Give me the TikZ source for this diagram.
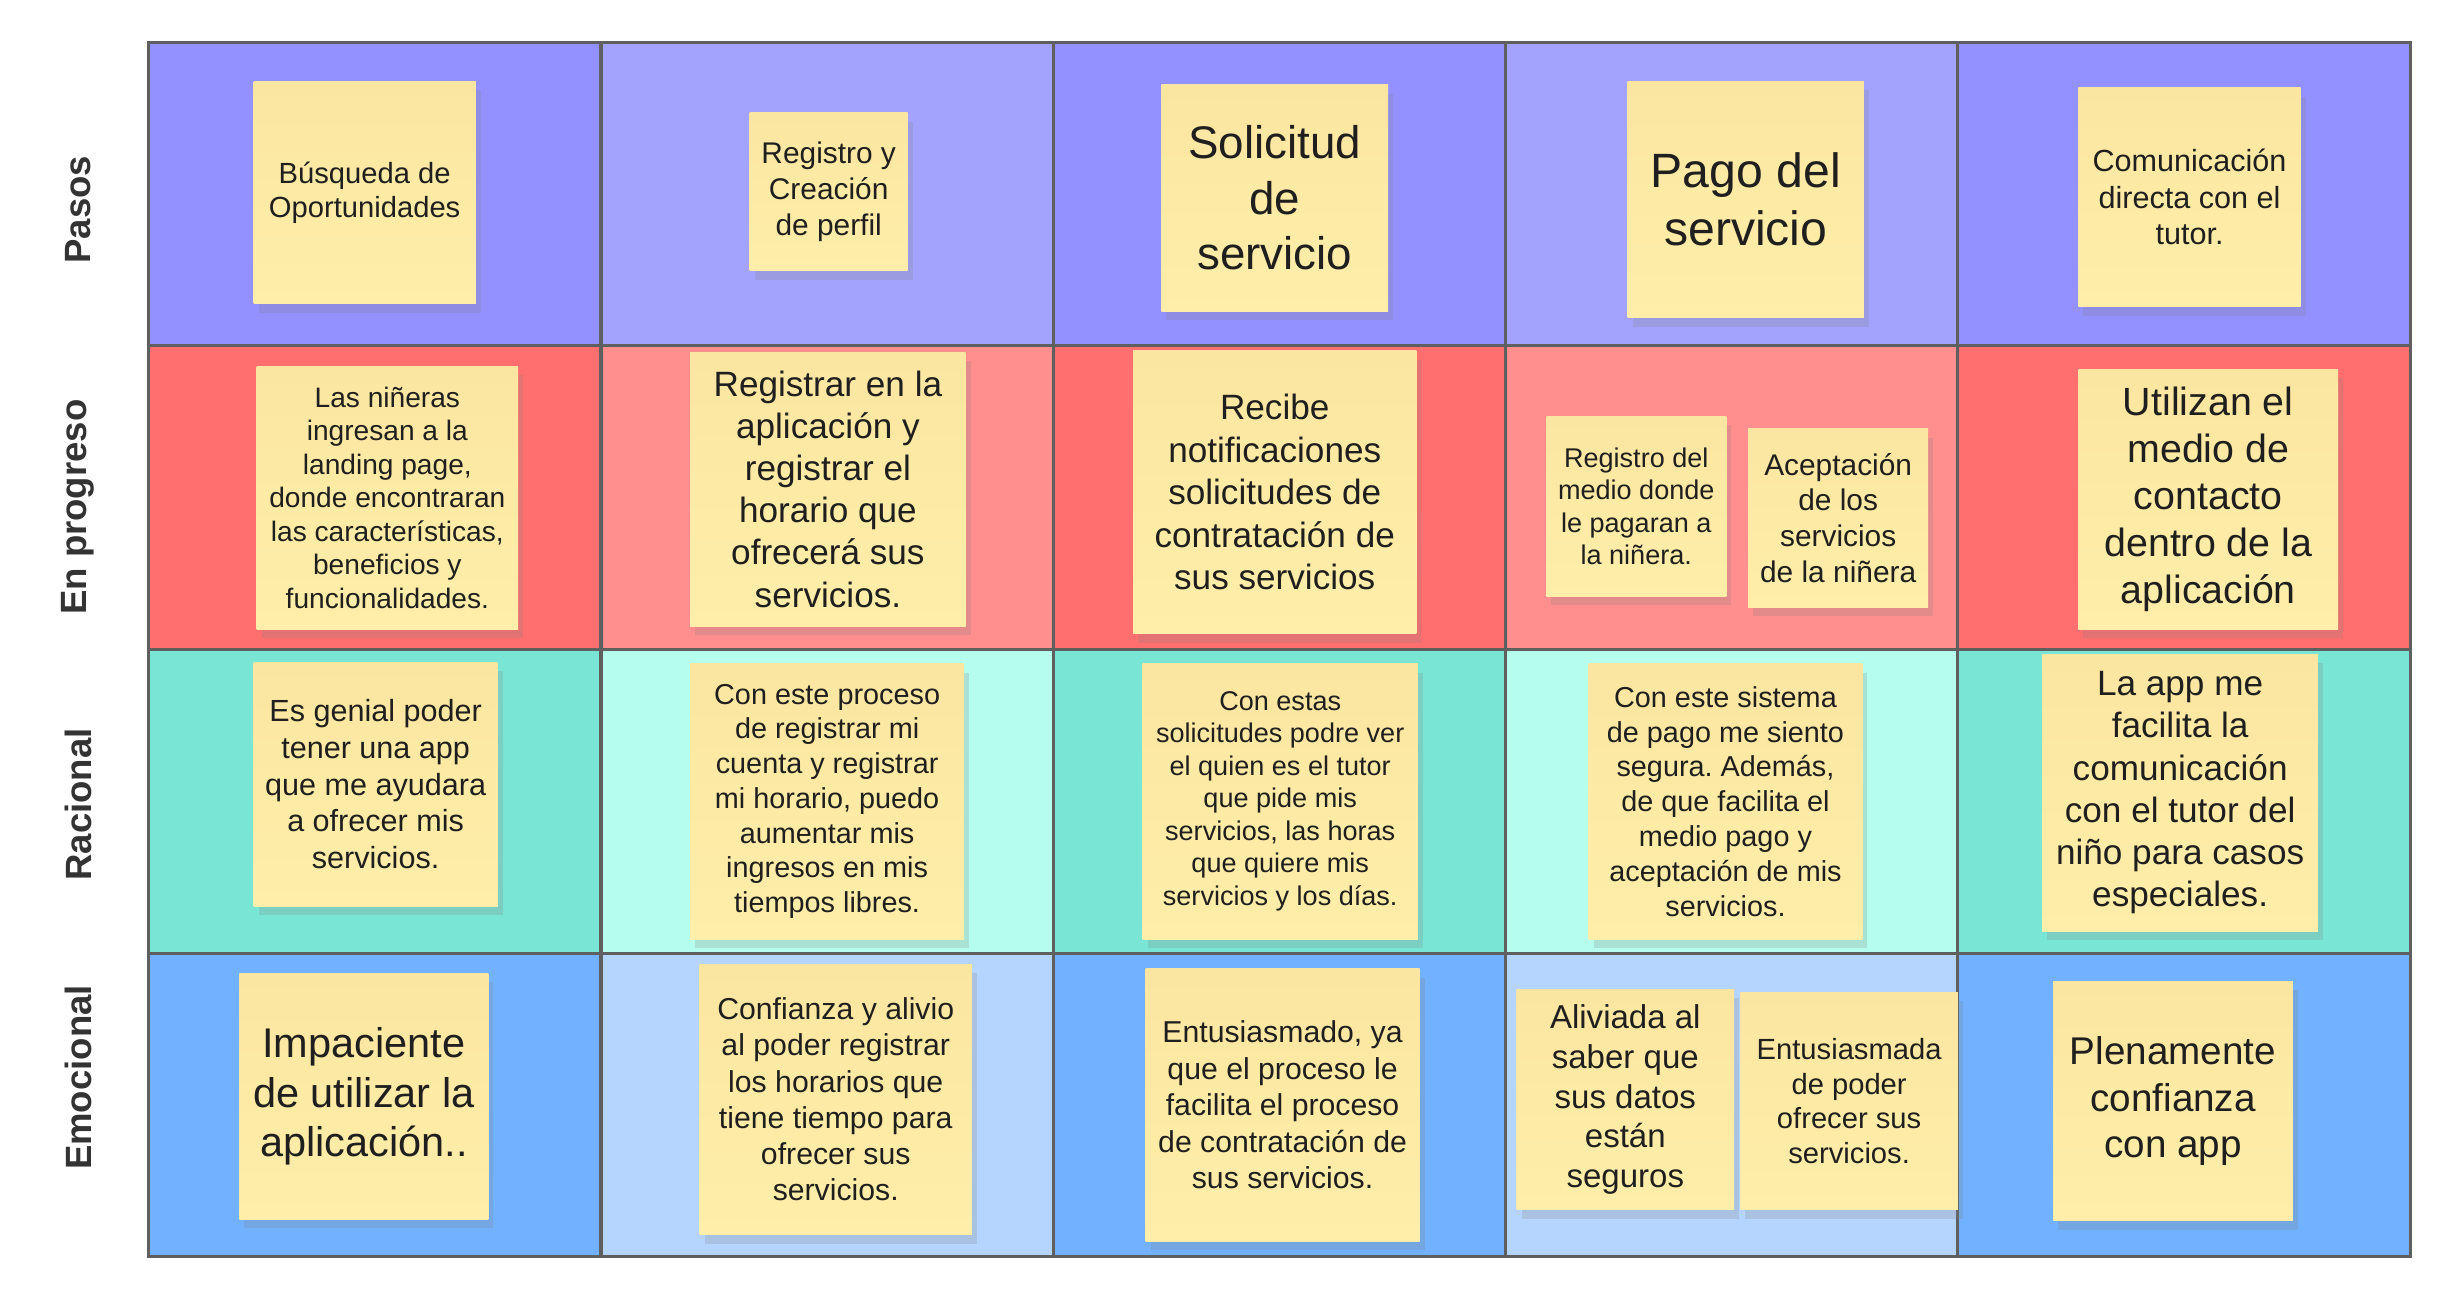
\documentclass[tikz,border=0pt]{standalone}
\usepackage{fontspec}
\setmainfont{Liberation Sans}
\usetikzlibrary{shadows}
\frenchspacing

\definecolor{pasosA}{HTML}{9391FF}
\definecolor{pasosB}{HTML}{A3A3FD}
\definecolor{progA}{HTML}{FF6F6F}
\definecolor{progB}{HTML}{FF8E8E}
\definecolor{racA}{HTML}{79E5D5}
\definecolor{racB}{HTML}{B5FDEC}
\definecolor{emoA}{HTML}{71B1FE}
\definecolor{emoB}{HTML}{B5D5FE}
\definecolor{noteTop}{HTML}{FBE6A1}
\definecolor{noteBot}{HTML}{FEEEA9}
\definecolor{gridline}{HTML}{5F5F5F}
\definecolor{labelgray}{HTML}{333333}

\tikzset{
  cell/.style={draw=gridline, line width=0.9pt, minimum width=289*0.1565mm,
    minimum height=194*0.1565mm, inner sep=0pt},
  rowlabel/.style={rotate=90, font=\fontsize{10.4}{12}\selectfont\bfseries,
    text=labelgray},
  sz/.style 2 args={minimum width=#1*0.1565mm, minimum height=#2*0.1565mm},
  ft/.style 2 args={font=\fontsize{#1}{#2}\selectfont},
  note/.style={top color=noteTop, bottom color=noteBot, inner sep=0pt,
    align=center, text=black!88,
    drop shadow={shadow xshift=0.5mm, shadow yshift=-0.9mm, opacity=0.22}},
}

\begin{document}
\begin{tikzpicture}[x=0.1565mm, y=-0.1565mm]

      \useasboundingbox (0,0) rectangle (1568,840);

      % grid of cells
      \begin{scope}
        \node[cell, fill=pasosA] (c11) at (239.5,124) {};
        \node[cell, fill=pasosB] (c12) at (528.5,124) {};
        \node[cell, fill=pasosA] (c13) at (817.5,124) {};
        \node[cell, fill=pasosB] (c14) at (1106.5,124) {};
        \node[cell, fill=pasosA] (c15) at (1395.5,124) {};
        \node[cell, fill=progA]  (c21) at (239.5,318) {};
        \node[cell, fill=progB]  (c22) at (528.5,318) {};
        \node[cell, fill=progA]  (c23) at (817.5,318) {};
        \node[cell, fill=progB]  (c24) at (1106.5,318) {};
        \node[cell, fill=progA]  (c25) at (1395.5,318) {};
        \node[cell, fill=racA]   (c31) at (239.5,512) {};
        \node[cell, fill=racB]   (c32) at (528.5,512) {};
        \node[cell, fill=racA]   (c33) at (817.5,512) {};
        \node[cell, fill=racB]   (c34) at (1106.5,512) {};
        \node[cell, fill=racA]   (c35) at (1395.5,512) {};
        \node[cell, fill=emoA]   (c41) at (239.5,706) {};
        \node[cell, fill=emoB]   (c42) at (528.5,706) {};
        \node[cell, fill=emoA]   (c43) at (817.5,706) {};
        \node[cell, fill=emoB]   (c44) at (1106.5,706) {};
        \node[cell, fill=emoA]   (c45) at (1395.5,706) {};
      \end{scope}

      % row labels
      \node[rowlabel] (pasos)    at (50,134)   {Pasos};
      \node[rowlabel] (progreso) at (50,324)   {En progreso};
      \node[rowlabel] (racional) at (50,514)   {Racional};
      \node[rowlabel] (emocional) at (50,688.5) {Emocional};

      % Pasos
      \node[note, sz={142}{142}, ft={8.3}{9.8}]   (p1) at (233,123)    {Búsqueda de\\Oportunidades};
      \node[note, sz={101}{101}, ft={8.5}{10.2}]  (p2) at (529.5,122.5) {Registro y\\Creación\\de perfil};
      \node[note, sz={145}{145}, ft={13}{15.8}]   (p3) at (814.5,126.5) {Solicitud\\de\\servicio};
      \node[note, sz={151}{151}, ft={13.7}{16.4}] (p4) at (1115.5,127.5) {Pago del\\servicio};
      \node[note, sz={142}{140}, ft={8.7}{10.4}]  (p5) at (1399,126)   {Comunicación\\directa con el\\tutor.};

      % En progreso
      \node[note, sz={167}{168}, ft={8}{9.55}]    (g1) at (247.5,318)  {Las niñeras\\ingresan a la\\landing page,\\donde encontraran\\las características,\\beneficios y\\funcionalidades.};
      \node[note, sz={176}{175}, ft={10}{12}]     (g2) at (529,312.5)  {Registrar en la\\aplicación y\\registrar el\\horario que\\ofrecerá sus\\servicios.};
      \node[note, sz={181}{181}, ft={10}{12.1}]   (g3) at (814.5,314.5) {Recibe\\notificaciones\\solicitudes de\\contratación de\\sus servicios};
      \node[note, sz={115}{115}, ft={7.7}{9.2}]   (g4) at (1045.5,323.5) {Registro del\\medio donde\\le pagaran a\\la niñera.};
      \node[note, sz={115}{114}, ft={8.5}{10.2}]  (g5) at (1174.5,331)  {Aceptación\\de los\\servicios\\de la niñera};
      \node[note, sz={166}{166}, ft={11.2}{13.4}] (g6) at (1411,319)   {Utilizan el\\medio de\\contacto\\dentro de la\\aplicación};

      % Racional
      \node[note, sz={156}{156}, ft={8.7}{10.4}]  (r1) at (240,501)    {Es genial poder\\tener una app\\que me ayudara\\a ofrecer mis\\servicios.};
      \node[note, sz={175}{176}, ft={8.2}{9.9}]   (r2) at (528.5,512)  {Con este proceso\\de registrar mi\\cuenta y registrar\\mi horario, puedo\\aumentar mis\\ingresos en mis\\tiempos libres.};
      \node[note, sz={176}{176}, ft={7.7}{9.25}]  (r3) at (818,512)    {Con estas\\solicitudes podre ver\\el quien es el tutor\\que pide mis\\servicios, las horas\\que quiere mis\\servicios y los días.};
      \node[note, sz={175}{176}, ft={8.2}{9.9}]   (r4) at (1102.5,512) {Con este sistema\\de pago me siento\\segura. Además,\\de que facilita el\\medio pago y\\aceptación de mis\\servicios.};
      \node[note, sz={176}{177}, ft={10}{12}]     (r5) at (1393,506.5) {La app me\\facilita la\\comunicación\\con el tutor del\\niño para casos\\especiales.};

      % Emocional
      \node[note, sz={159}{157}, ft={11.8}{14.2}] (e1) at (232.5,700.5) {Impaciente\\de utilizar la\\aplicación..};
      \node[note, sz={174}{173}, ft={8.6}{10.3}]  (e2) at (534,702.5)  {Confianza y alivio\\al poder registrar\\los horarios que\\tiene tiempo para\\ofrecer sus\\servicios.};
      \node[note, sz={175}{174}, ft={8.6}{10.35}] (e3) at (819.5,706)  {Entusiasmado, ya\\que el proceso le\\facilita el proceso\\de contratación de\\sus servicios.};
      \node[note, sz={139}{141}, ft={9.4}{11.3}]  (e4) at (1038.5,702.5) {Aliviada al\\saber que\\sus datos\\están\\seguros};
      \node[note, sz={139}{139}, ft={8.3}{9.9}]   (e5) at (1181.5,703.5) {Entusiasmada\\de poder\\ofrecer sus\\servicios.};
      \node[note, sz={153}{153}, ft={11}{13.1}]   (e6) at (1388.5,703.5) {Plenamente\\confianza\\con app};

    \end{tikzpicture}
\end{document}
